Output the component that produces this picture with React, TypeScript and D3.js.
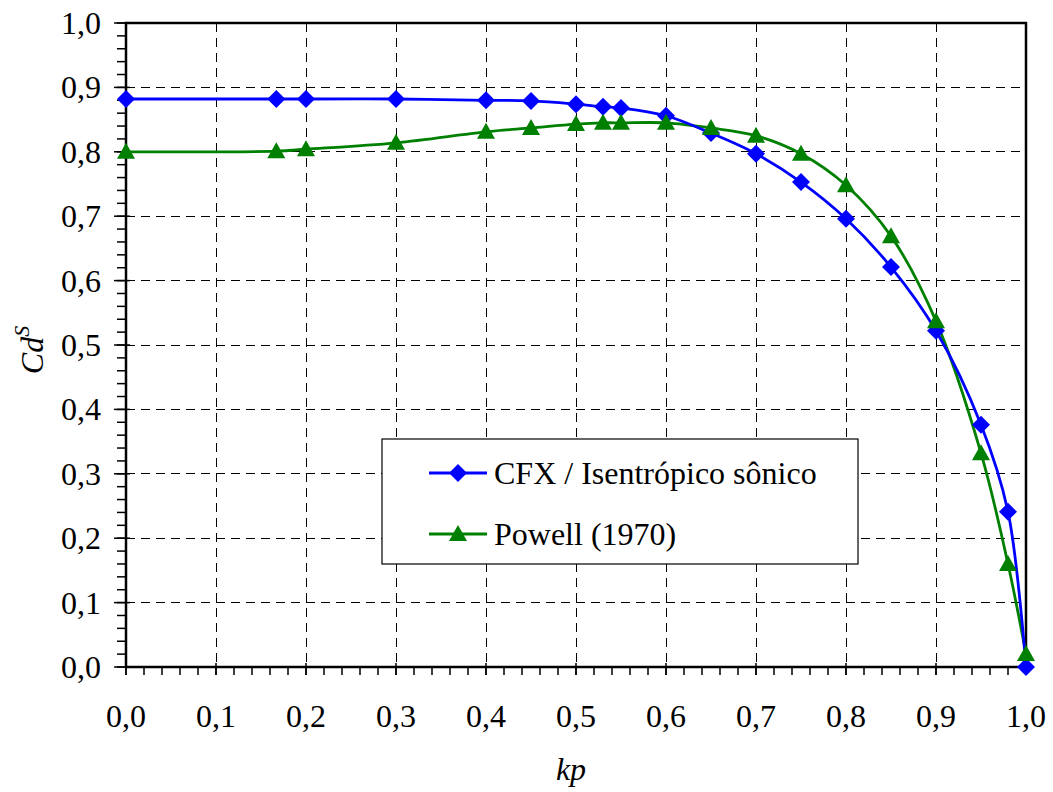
import React from "react";
import * as d3 from "d3";

const kp = [0, 0.167, 0.2, 0.3, 0.4, 0.45, 0.5, 0.53, 0.55, 0.6, 0.65, 0.7, 0.75, 0.8, 0.85, 0.9, 0.95, 0.98, 1.0];
const cfx = [0.882, 0.882, 0.882, 0.882, 0.880, 0.879, 0.874, 0.870, 0.868, 0.856, 0.829, 0.797, 0.753, 0.696, 0.621, 0.522, 0.376, 0.241, 0.0];
const powell = [0.800, 0.801, 0.804, 0.814, 0.831, 0.837, 0.843, 0.845, 0.845, 0.845, 0.837, 0.825, 0.797, 0.748, 0.669, 0.537, 0.332, 0.160, 0.02];
const xTicks = [0, 0.1, 0.2, 0.3, 0.4, 0.5, 0.6, 0.7, 0.8, 0.9, 1.0];
const yTicks = [0, 0.1, 0.2, 0.3, 0.4, 0.5, 0.6, 0.7, 0.8, 0.9, 1.0];
const seriesNames = ["CFX / Isentrópico sônico", "Powell (1970)"];

const W = 1053, H = 792;
const L = 126, R = 1026, T = 23, B = 667;
const FONT = "Liberation Serif";

export default function App() {
  const x = d3.scaleLinear().domain([0, 1]).range([L, R]);
  const y = d3.scaleLinear().domain([0, 1]).range([B, T]);
  const fmt = (v: number) => v.toFixed(1).replace(".", ",");
  const minor = d3.range(0, 1.0001, 0.02);
  const line = d3.line<number>().x((_, i) => x(kp[i])).y((d) => y(d)).curve(d3.curveCatmullRom.alpha(0.5));
  const diamond = (cx: number, cy: number, r = 9) => `M${cx},${cy - r}L${cx + r},${cy}L${cx},${cy + r}L${cx - r},${cy}Z`;
  const tri = (cx: number, cy: number, s = 9) => `M${cx},${cy - s}L${cx + s},${cy + 7}L${cx - s},${cy + 7}Z`;
  const ts = { fontFamily: FONT };

  return (
    <svg width={W} height={H} style={{ position: "absolute", left: 0, top: 0, background: "#fff", fontFamily: FONT }}>
      <rect x={0} y={0} width={W} height={H} fill="#fff" />
      {/* grid */}
      <g stroke="#000" strokeWidth={1} strokeDasharray="9,6" shapeRendering="crispEdges">
        {xTicks.slice(1, -1).map((t) => (
          <line key={"gx" + t} x1={x(t)} x2={x(t)} y1={T} y2={B} />
        ))}
        {yTicks.slice(1, -1).map((t) => (
          <line key={"gy" + t} x1={L} x2={R} y1={y(t)} y2={y(t)} />
        ))}
      </g>
      {/* ticks */}
      <g stroke="#000" strokeWidth={1.5}>
        {minor.map((t) => (
          <line key={"tx" + t} x1={x(t)} x2={x(t)} y1={B} y2={B + 8} />
        ))}
        {minor.map((t) => (
          <line key={"ty" + t} x1={L - 9} x2={L} y1={y(t)} y2={y(t)} />
        ))}
        {xTicks.map((t) => (
          <line key={"mx" + t} x1={x(t)} x2={x(t)} y1={B - 4} y2={B + 8} />
        ))}
        {yTicks.map((t) => (
          <line key={"my" + t} x1={L - 12} x2={L + 4} y1={y(t)} y2={y(t)} />
        ))}
      </g>
      {/* frame */}
      <rect x={L} y={T} width={R - L} height={B - T} fill="none" stroke="#000" strokeWidth={2.5} />
      {/* tick labels */}
      <g fontSize={32} fill="#000">
        {xTicks.map((t) => (
          <text key={"lx" + t} style={ts} x={x(t)} y={727} textAnchor="middle">{fmt(t)}</text>
        ))}
        {yTicks.map((t) => (
          <text key={"ly" + t} style={ts} x={101} y={y(t) + 11} textAnchor="end">{fmt(t)}</text>
        ))}
      </g>
      {/* axis titles */}
      <text style={ts} x={571} y={780} fontSize={32} fontStyle="italic" textAnchor="middle">kp</text>
      <text style={ts} transform="translate(43,350) rotate(-90)" fontSize={32} fontStyle="italic" textAnchor="middle">
        Cd<tspan fontSize={22} dy={-14}>S</tspan>
      </text>
      {/* series */}
      <path d={line(powell) || ""} fill="none" stroke="#008000" strokeWidth={2.8} />
      <path d={line(cfx) || ""} fill="none" stroke="#0000FF" strokeWidth={2.8} />
      {cfx.map((v, i) => (
        <path key={"d" + i} d={diamond(x(kp[i]), y(v))} fill="#0000FF" />
      ))}
      {powell.map((v, i) => (
        <path key={"t" + i} d={tri(x(kp[i]), y(v))} fill="#008000" />
      ))}
      {/* legend */}
      <rect x={382} y={439} width={476} height={125} fill="#fff" stroke="#000" strokeWidth={1.2} />
      <line x1={429} x2={487} y1={473} y2={473} stroke="#0000FF" strokeWidth={2.8} />
      <path d={diamond(458, 473)} fill="#0000FF" />
      <text style={ts} x={494} y={484} fontSize={32}>{seriesNames[0]}</text>
      <line x1={429} x2={487} y1={534} y2={534} stroke="#008000" strokeWidth={2.8} />
      <path d={tri(458, 534)} fill="#008000" />
      <text style={ts} x={494} y={545} fontSize={32}>{seriesNames[1]}</text>
    </svg>
  );
}
